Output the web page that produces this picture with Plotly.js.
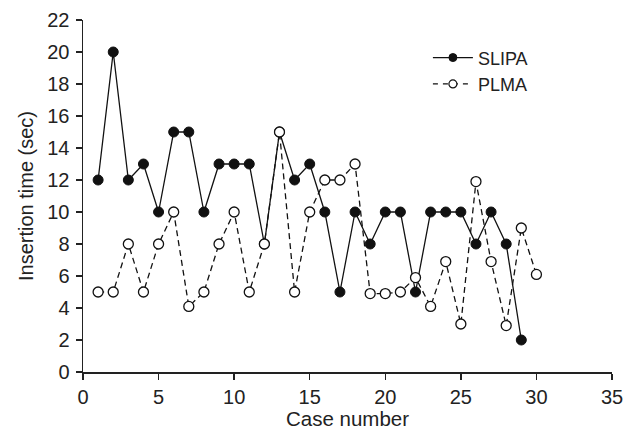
<!DOCTYPE html>
<html><head><meta charset="utf-8">
<script src="https://cdn.plot.ly/plotly-3.0.1.min.js"></script>
<style>html,body{margin:0;padding:0;background:#fff}</style>
</head><body>
<div id="chart" style="width:635px;height:438px"></div>
<script>
const slipaCases = [1,2,3,4,5,6,7,8,9,10,11,12,13,14,15,16,17,18,19,20,21,22,23,24,25,26,27,28,29];
const slipaTimes = [12,20,12,13,10,15,15,10,13,13,13,8,15,12,13,10,5,10,8,10,10,5,10,10,10,8,10,8,2];
const plmaCases = [1,2,3,4,5,6,7,8,9,10,11,12,13,14,15,16,17,18,19,20,21,22,23,24,25,26,27,28,29,30];
const plmaTimes = [5,5,8,5,8,10,4.1,5,8,10,5,8,15,5,10,12,12,13,4.9,4.9,5,5.9,4.1,6.9,3,11.9,6.9,2.9,9,6.1];
const yTicks = [0,2,4,6,8,10,12,14,16,18,20,22];
const xTicks = [0,5,10,15,20,25,30,35];

const traces = [
  {x: slipaCases, y: slipaTimes, name: 'SLIPA', type: 'scatter', mode: 'lines+markers', showlegend: false,
   line: {color: '#111', width: 1.3, dash: 'solid'},
   marker: {symbol: 'circle', size: 10, color: '#111', line: {color: '#111', width: 1}}},
  {x: plmaCases, y: plmaTimes, name: 'PLMA', type: 'scatter', mode: 'lines+markers', showlegend: false,
   line: {color: '#111', width: 1.3, dash: '6px,4px'},
   marker: {symbol: 'circle', size: 10, color: '#fff', line: {color: '#111', width: 1.3}}},
  {x: [null], y: [null], name: 'SLIPA', type: 'scatter', mode: 'lines+markers', showlegend: true,
   line: {color: '#111', width: 1.3, dash: 'solid'},
   marker: {symbol: 'circle', size: 8, color: '#111', line: {color: '#111', width: 1}}},
  {x: [null], y: [null], name: 'PLMA', type: 'scatter', mode: 'lines+markers', showlegend: true,
   line: {color: '#111', width: 1.3, dash: '5px,5px'},
   marker: {symbol: 'circle', size: 8, color: '#fff', line: {color: '#111', width: 1.2}}}
];
const layout = {
  width: 635, height: 438,
  margin: {l: 83, r: 23, t: 20, b: 66},
  paper_bgcolor: '#fff', plot_bgcolor: '#fff',
  font: {family: 'Liberation Sans, Arial, sans-serif', size: 20, color: '#222'},
  showlegend: true,
  legend: {x: 0.652, y: 0.945, xanchor: 'left', yanchor: 'top', bgcolor: 'rgba(0,0,0,0)',
           font: {size: 18, color: '#222'}, tracegroupgap: 0, itemwidth: 40},
  xaxis: {range: [0, 35], tickvals: xTicks, ticktext: xTicks.map(String),
          showgrid: false, zeroline: false, showline: true, linecolor: '#222', linewidth: 1.5,
          ticks: 'outside', ticklen: 6, tickwidth: 1.3, tickcolor: '#222', ticklabelstandoff: 0,
          tickfont: {size: 20},
          title: {text: 'Case number', font: {size: 20.5}, standoff: 5}},
  yaxis: {range: [0, 22], tickvals: yTicks, ticktext: yTicks.map(String),
          showgrid: false, zeroline: false, showline: true, linecolor: '#222', linewidth: 1.5,
          ticks: 'outside', ticklen: 6, tickwidth: 1.3, tickcolor: '#222', ticklabelstandoff: 2,
          tickfont: {size: 20},
          title: {text: 'Insertion time (sec)', font: {size: 20}, standoff: 8}}
};
Plotly.newPlot('chart', traces, layout, {displayModeBar: false, staticPlot: true});
</script>
</body></html>
